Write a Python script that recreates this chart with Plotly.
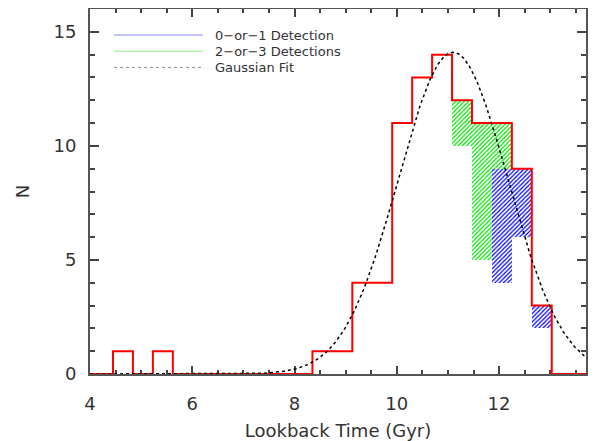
import plotly.graph_objects as go
import numpy as np

# histogram of lookback times (bins of equal width)
bin_start = 4.45
bin_width = 0.39
counts = [1, 0, 1, 0, 0, 0, 0, 0, 0, 0, 1, 1, 4, 4, 11, 13, 14, 12, 11, 11, 9, 3]

# hatched sub-ranges: bin index, bottom, top
green_bins = [17, 18, 19]
green_low = [10, 5, 9]
green_high = [12, 11, 11]

blue_bins = [19, 20, 21]
blue_low = [4, 6, 2]
blue_high = [9, 9, 3]

# gaussian fit parameters
fit_amp = 14.1
fit_mean = 11.1
fit_sigma = 1.07

x_min, x_max = 4.0, 13.7
y_min, y_max = 0.0, 16.0

FONT = "DejaVu Sans"
TXT = "#333333"

edges = [bin_start + i * bin_width for i in range(len(counts) + 1)]


def centers(idx):
    return [bin_start + (i + 0.5) * bin_width for i in idx]


fig = go.Figure()

fig.add_trace(go.Bar(
    x=centers(green_bins), y=[h - l for l, h in zip(green_low, green_high)], base=green_low,
    width=bin_width,
    marker=dict(color="#00e000", line=dict(width=0),
                pattern=dict(shape="/", size=3, solidity=0.4, fillmode="replace")),
    showlegend=False,
))
fig.add_trace(go.Bar(
    x=centers(blue_bins), y=[h - l for l, h in zip(blue_low, blue_high)], base=blue_low,
    width=bin_width,
    marker=dict(color="#0000ff", line=dict(width=0),
                pattern=dict(shape="/", size=3, solidity=0.4, fillmode="replace")),
    showlegend=False,
))

# red step outline
sx = [x_min] + edges + [x_max]
sy = [0] + counts + [0, 0]
fig.add_trace(go.Scatter(
    x=sx, y=sy, mode="lines", line=dict(color="#ff0000", width=2, shape="hv"),
    cliponaxis=False, showlegend=False,
))

# gaussian fit curve
gx = np.linspace(x_min, x_max, 400)
gy = fit_amp * np.exp(-((gx - fit_mean) ** 2) / (2 * fit_sigma ** 2))
fig.add_trace(go.Scatter(
    x=gx, y=gy, mode="lines", line=dict(color="black", width=1.5, dash="dot"),
    cliponaxis=False, showlegend=False,
))

# hand-made legend (long line samples)
legend_items = [
    ("0\u2212or\u22121 Detection", "#8c8cff", "solid"),
    ("2\u2212or\u22123 Detections", "#90ee90", "solid"),
    ("Gaussian Fit", "#888888", "dot"),
]
for i, (label, col, dash) in enumerate(legend_items):
    yy = 35 + i * 16.2
    fig.add_shape(type="line", xref="paper", yref="paper",
                  x0=(114 - 90) / 496, x1=(203 - 90) / 496,
                  y0=(374 - yy) / 365, y1=(374 - yy) / 365,
                  line=dict(color=col, width=1, dash=dash))
    fig.add_annotation(xref="paper", yref="paper", x=(213 - 90) / 496, y=(374 - yy) / 365,
                       text=label, showarrow=False, xanchor="left", yanchor="middle",
                       font=dict(family=FONT, size=13, color=TXT))

axis_common = dict(
    showline=True, linecolor="#555555", linewidth=2, mirror="allticks",
    ticks="inside", tickcolor="#444444", tickwidth=1.5,
    showgrid=False, zeroline=False, layer="below traces", automargin=False,
    tickfont=dict(family=FONT, size=18, color=TXT),
)

fig.update_xaxes(
    range=[x_min, x_max], tick0=4, dtick=2, ticklen=8,
    minor=dict(dtick=0.5, ticklen=4, ticks="inside", tickcolor="#444444", tickwidth=1.5),
    title=dict(text="Lookback Time (Gyr)", font=dict(family=FONT, size=18, color=TXT), standoff=12),
    ticklabelstandoff=12,
    **axis_common,
)
fig.update_yaxes(
    range=[y_min, y_max], tick0=0, dtick=5, ticklen=9,
    minor=dict(dtick=1, ticklen=5, ticks="inside", tickcolor="#444444", tickwidth=1.5),
    title=dict(text="N", font=dict(family=FONT, size=18, color=TXT), standoff=19),
    ticklabelstandoff=8,
    **axis_common,
)

# page body adds an 8px offset, so the figure is sized to fit the window
fig.update_layout(
    width=590, height=433,
    margin=dict(l=82, r=12, t=1, b=67),
    paper_bgcolor="white", plot_bgcolor="white",
    barmode="overlay", bargap=0,
    showlegend=False,
)

fig.write_html("out.html")
